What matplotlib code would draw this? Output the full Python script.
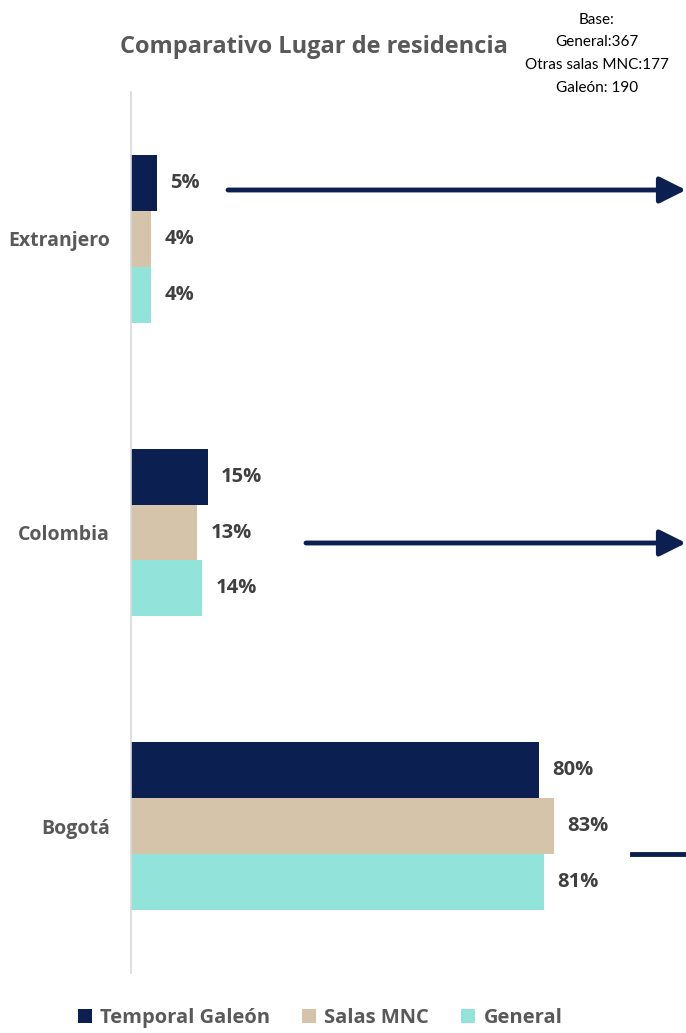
import matplotlib.pyplot as plt
from matplotlib.patches import FancyArrowPatch
import numpy as np

plt.rcParams['font.family'] = ['Open Sans', 'DejaVu Sans']

categories = ["Extranjero", "Colombia", "Bogotá"]
series = ["Temporal Galeón", "Salas MNC", "General"]
galeon = [5, 15, 80]
salas = [4, 13, 83]
general = [4, 14, 81]
colors = ["#0B1F51", "#D5C4AA", "#92E3D9"]

W, H = 686, 1033
fig = plt.figure(figsize=(W / 100, H / 100), dpi=100)
ax = fig.add_axes([131 / W, 60 / H, 510 / W, 881 / H])

y = np.arange(len(categories))
bh = 0.19
for i, (vals, c) in enumerate(zip([galeon, salas, general], colors)):
    pos = y + (i - 1) * bh
    ax.barh(pos, vals, height=bh, color=c, label=series[i])
    for p, v in zip(pos, vals):
        ax.text(v + 2.6, p, f"{v}%", va="center", ha="left", fontsize=14.5,
                fontweight="bold", color="#404040")

ax.set_xlim(0, 100)
ax.set_ylim(2.5, -0.5)
ax.set_yticks(y)
ax.set_yticklabels(categories, fontsize=14, fontweight="bold", color="#595959")
ax.tick_params(axis="y", length=0, pad=15)
ax.set_xticks([])
for s in ["top", "right", "bottom"]:
    ax.spines[s].set_visible(False)
ax.spines["left"].set_color("#D9D9D9")
ax.spines["left"].set_linewidth(1.2)

fig.text(314 / W, 1 - 47 / H, "Comparativo Lugar de residencia", ha="center",
         va="center", fontsize=17, fontweight="bold", color="#595959")
for k, line in enumerate(["Base:", "General:367", "Otras salas MNC:177", "Galeón: 190"]):
    fig.text(597 / W, 1 - (20 + k * 22.5) / H, line, ha="center", va="center",
             fontsize=11, color="#000000", family=["Lato", "DejaVu Sans"])

# arrows
for x0, x1, yy in [(228, 686, 190), (306, 686, 543)]:
    fig.patches.append(FancyArrowPatch(
        (x0 / W, 1 - yy / H), (x1 / W, 1 - yy / H), transform=fig.transFigure,
        arrowstyle="-|>,head_length=0.8,head_width=0.4", color="#0B1F51", lw=3.5,
        shrinkA=0, shrinkB=0, mutation_scale=20))
fig.add_artist(plt.Line2D([632 / W, 1.0], [1 - 854 / H, 1 - 854 / H],
                          transform=fig.transFigure, color="#0B1F51", lw=3.5))

leg = fig.legend(loc="center", bbox_to_anchor=(320 / W, 1 - 1018 / H), ncol=3,
                 frameon=False, handlelength=0.7, handleheight=0.7, handletextpad=0.4,
                 columnspacing=1.6, prop={"size": 14.5, "weight": "bold"})
for t in leg.get_texts():
    t.set_color("#595959")

fig.savefig("out.png", dpi=100)
